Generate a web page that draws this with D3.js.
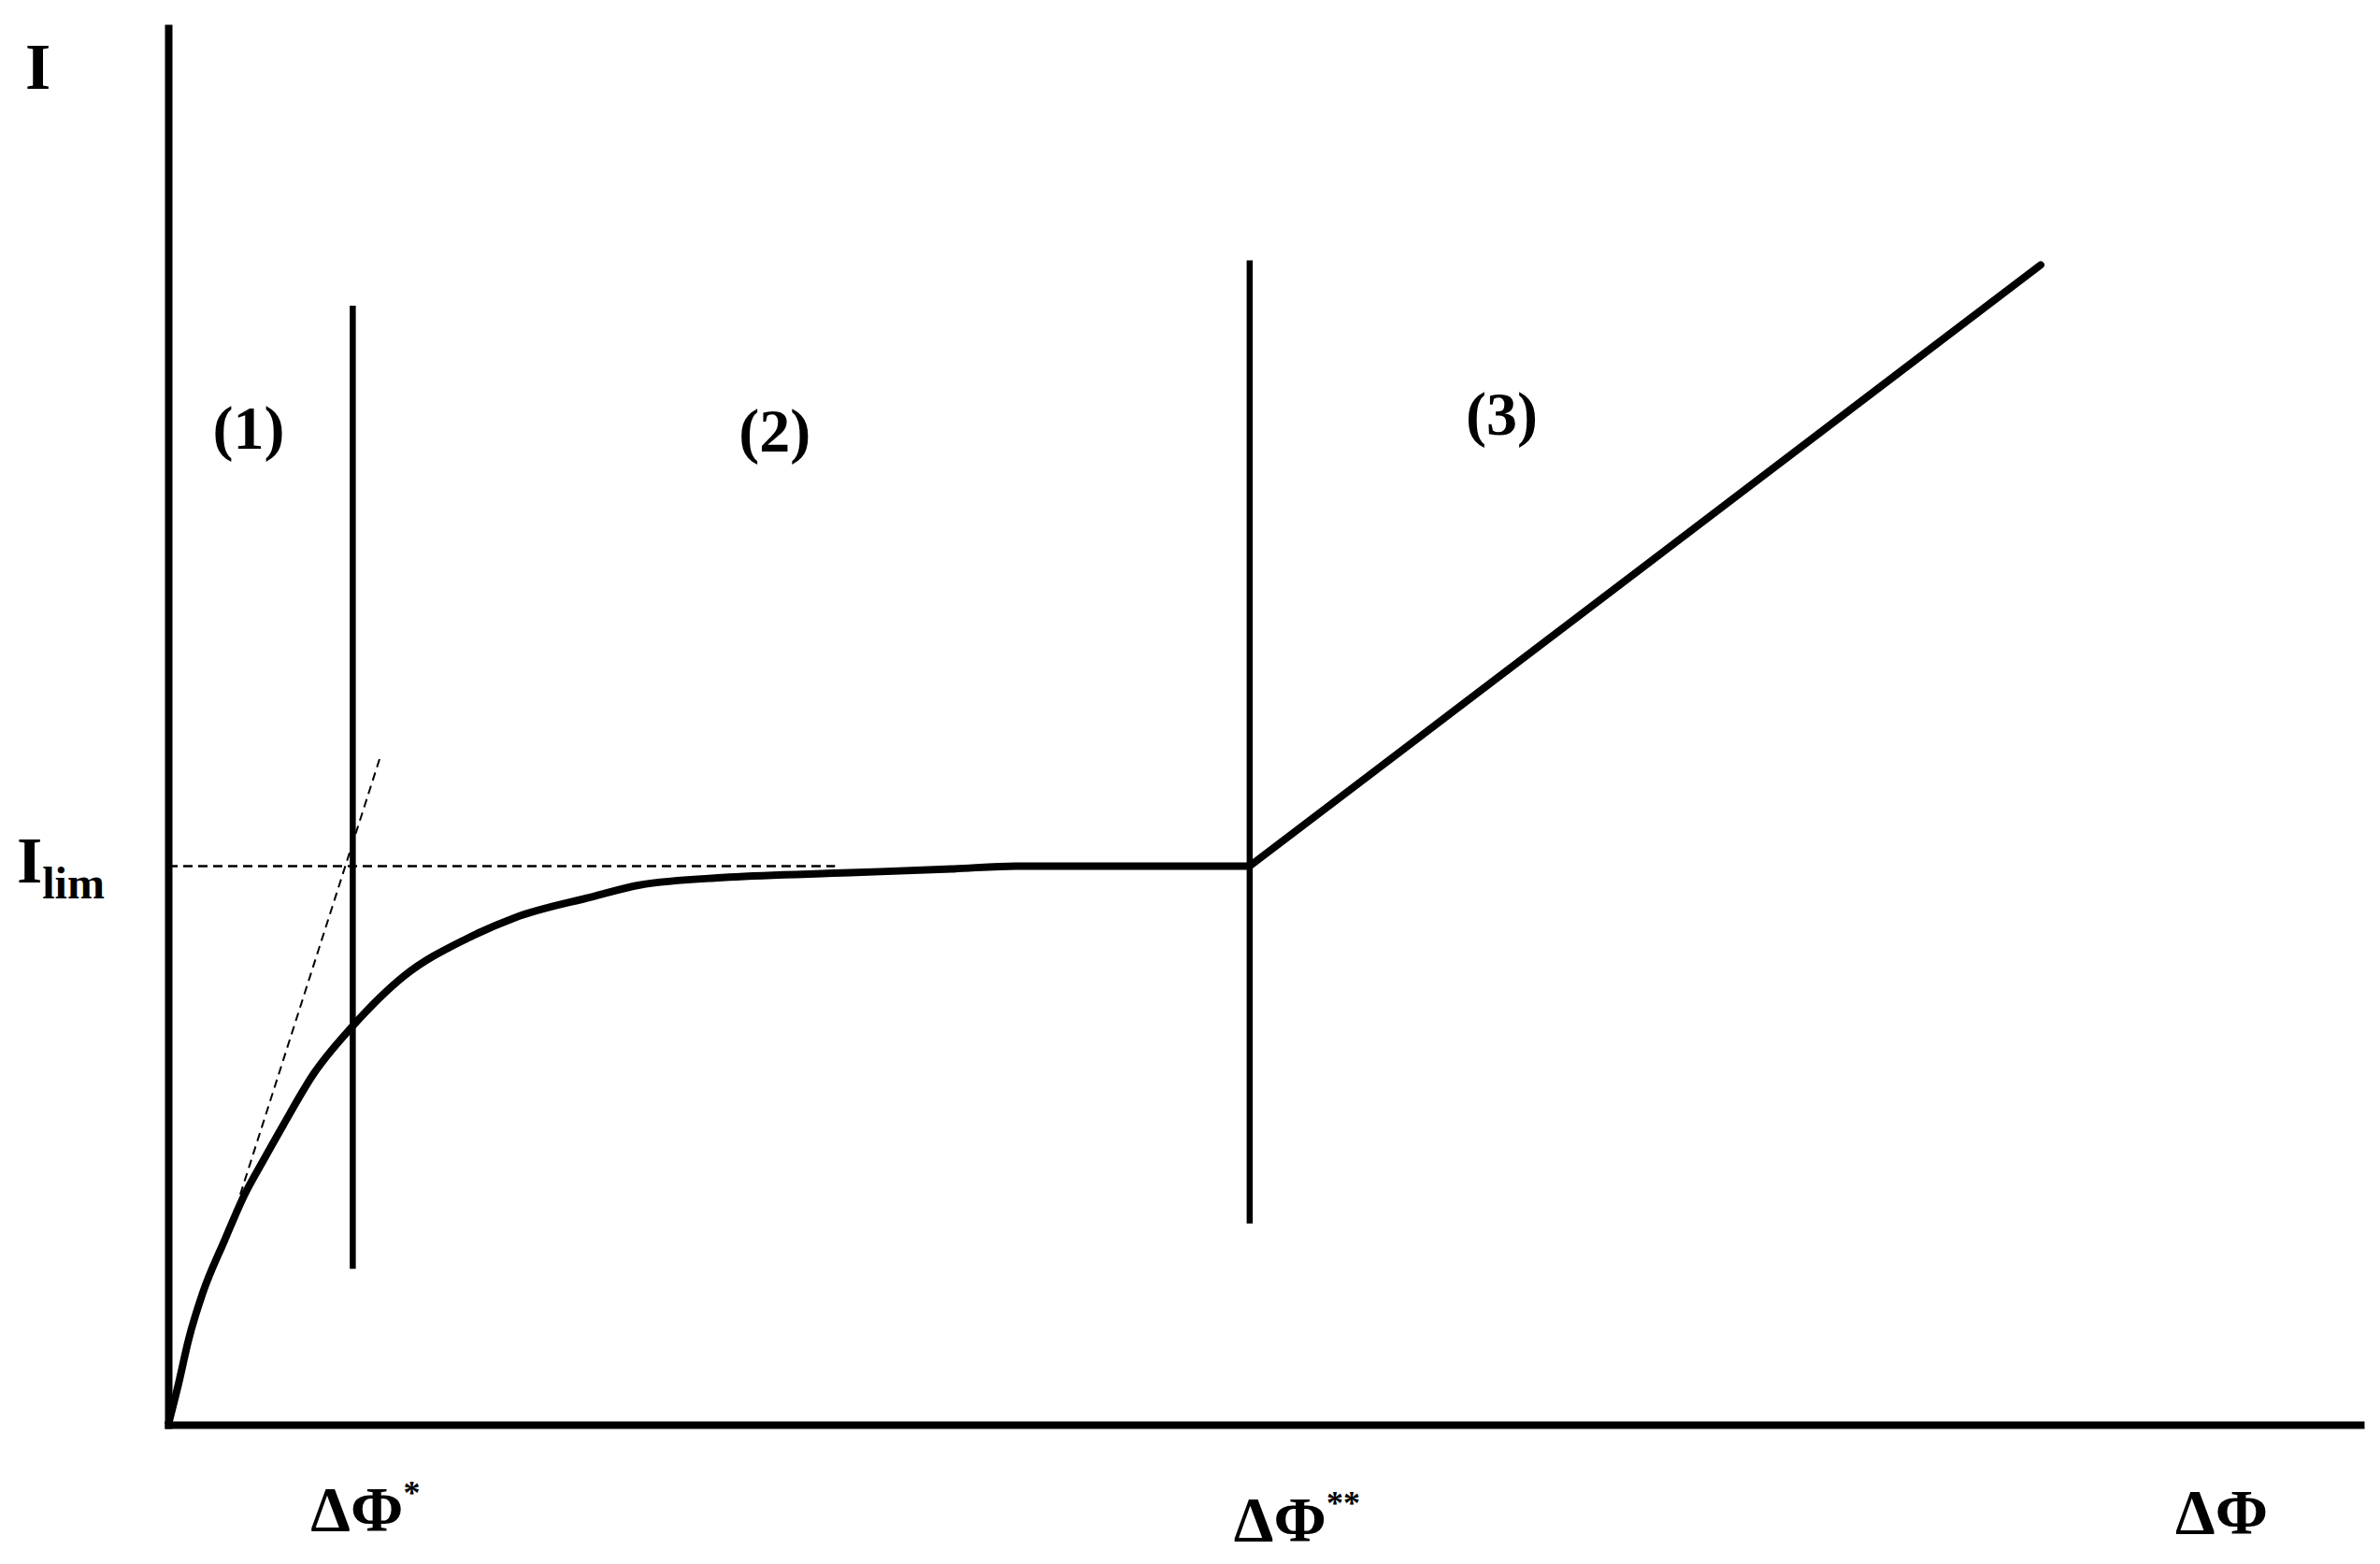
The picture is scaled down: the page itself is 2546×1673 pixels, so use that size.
<!DOCTYPE html>
<html>
<head>
<meta charset="utf-8">
<script src="https://cdn.jsdelivr.net/npm/d3@7"></script>
<style>
  html, body { margin: 0; padding: 0; background: #fff; }
  text { font-family: "Liberation Serif", "Times New Roman", serif; font-weight: bold; fill: #000; }
</style>
</head>
<body>
<div id="plot"></div>
<script>
// polarisation curve I(ΔΦ), Ilim = 1
var curveX = [0, 0.056, 0.111, 0.188, 0.307, 0.418, 0.522, 0.629, 0.798, 1.008, 1.29, 1.64, 1.90, 2.32, 2.58, 3.07, 3.73, 4.30, 4.64, 5.92];
var curveI = [0, 0.073, 0.152, 0.235, 0.329, 0.412, 0.474, 0.536, 0.629, 0.713, 0.803, 0.871, 0.908, 0.945, 0.966, 0.980, 0.988, 0.995, 1.0, 1.0];
var riseX = [5.92, 10.25];
var riseI = [1.0, 2.076];

var tangentX = [0.394, 1.162];
var tangentI = [0.412, 1.197];
var limX = [0, 3.65];
var limI = [1, 1];

var markerX = [1.01, 5.92];
var markerTop = [2.003, 2.084];
var markerBottom = [0.279, 0.360];
var markerLabels = ["*", "**"];

var regionLabels = ["(1)", "(2)", "(3)"];
var regionX = [0.44, 3.32, 7.30];
var regionI = [1.747, 1.742, 1.772];

var width = 2546,
  height = 1673;

var svg = d3.select("#plot").append("svg")
  .attr("width", width)
  .attr("height", height)

var xScale = d3.scaleLinear().domain([0, 12]).range([180, 2525]);
var yScale = d3.scaleLinear().domain([0, 2.5]).range([1524, 30]);

// axes, no ticks
svg.append("g")
  .attr("transform", "translate(0," + yScale(0) + ")")
  .call(d3.axisBottom(xScale).tickValues([]).tickSizeOuter(0))
  .select(".domain")
  .attr("stroke", "#000")
  .attr("stroke-width", 8)
  .attr("stroke-linecap", "square");

svg.append("g")
  .attr("transform", "translate(" + xScale(0) + ",0)")
  .call(d3.axisLeft(yScale).tickValues([]).tickSizeOuter(0))
  .select(".domain")
  .attr("stroke", "#000")
  .attr("stroke-width", 8)
  .attr("stroke-linecap", "square");

var line = d3.line()
  .x(function (d) { return xScale(d[0]); })
  .y(function (d) { return yScale(d[1]); });

// dashed helpers
svg.append("path")
  .attr("d", line(d3.zip(limX, limI)))
  .attr("stroke", "#000")
  .attr("stroke-width", 2.5)
  .attr("stroke-dasharray", "10,6")
  .attr("fill", "none");

svg.append("path")
  .attr("d", line(d3.zip(tangentX, tangentI)))
  .attr("stroke", "#000")
  .attr("stroke-width", 2)
  .attr("stroke-dasharray", "9,6")
  .attr("fill", "none");

// vertical boundaries
markerX.forEach(function (m, i) {
  svg.append("line")
    .attr("x1", xScale(m)).attr("x2", xScale(m))
    .attr("y1", yScale(markerTop[i])).attr("y2", yScale(markerBottom[i]))
    .attr("stroke", "#000")
    .attr("stroke-width", 6.5);
});

// main curve
svg.append("path")
  .attr("d", line.curve(d3.curveMonotoneX)(d3.zip(curveX, curveI)))
  .attr("stroke", "#000")
  .attr("stroke-width", 8)
  .attr("stroke-linejoin", "round")
  .attr("fill", "none");

svg.append("path")
  .attr("d", line.curve(d3.curveLinear)(d3.zip(riseX, riseI)))
  .attr("stroke", "#000")
  .attr("stroke-width", 8)
  .attr("stroke-linecap", "round")
  .attr("fill", "none");

// region labels
regionLabels.forEach(function (t, i) {
  svg.append("text")
    .attr("x", xScale(regionX[i]))
    .attr("y", yScale(regionI[i]))
    .attr("text-anchor", "middle")
    .attr("font-size", 66)
    .text(t);
});

// axis titles
svg.append("text")
  .attr("x", 27).attr("y", 95)
  .attr("font-size", 70)
  .text("I");

var ilim = svg.append("text")
  .attr("x", 18).attr("y", yScale(1) + 18)
  .attr("font-size", 70);
ilim.append("tspan").text("I");
ilim.append("tspan").attr("font-size", 48).attr("dy", 17).text("lim");

var labelOffset = [-45, -17];
var labelY = [1637, 1648];
markerX.forEach(function (m, i) {
  var t = svg.append("text")
    .attr("x", xScale(m) + labelOffset[i])
    .attr("y", labelY[i])
    .attr("font-size", 68);
  t.append("tspan").text("ΔΦ");
  t.append("tspan").attr("font-size", 36).attr("dy", -28).text(markerLabels[i]);
});

svg.append("text")
  .attr("x", 2327).attr("y", 1640)
  .attr("font-size", 68)
  .text("ΔΦ");
</script>
</body>
</html>
